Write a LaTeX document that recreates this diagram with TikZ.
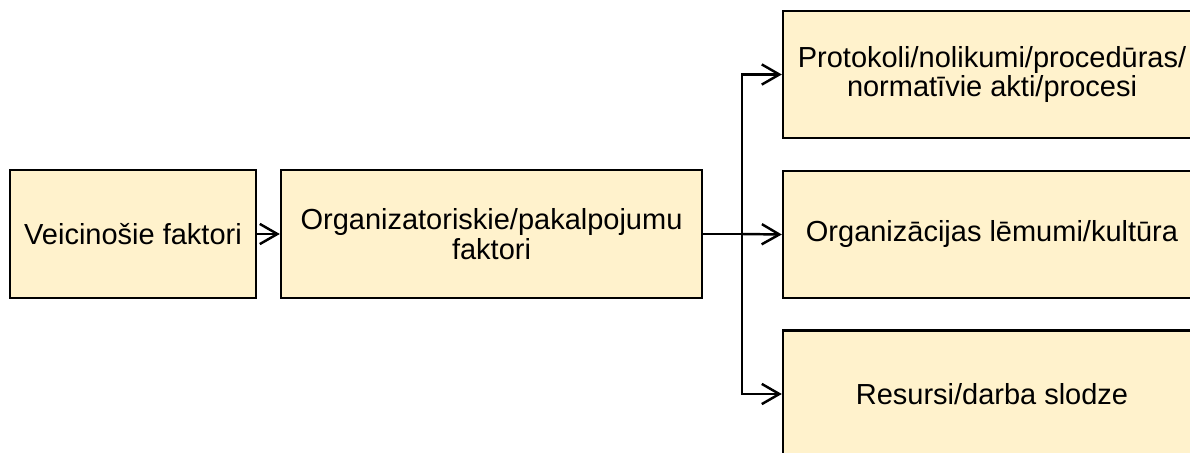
\documentclass[tikz,border=0pt]{standalone}
\usepackage{fontspec}
\setmainfont{Liberation Sans}
\usetikzlibrary{arrows.meta,positioning}
\definecolor{boxFill}{RGB}{255,242,204}

\begin{document}
\begin{tikzpicture}[x=0.02cm, y=-0.02cm,
    every node/.style={font=\fontsize{16.5}{17}\selectfont},
    factor/.style={draw, line width=1.4pt, fill=boxFill, align=center, inner sep=0pt},
    link/.style={line width=1.4pt, -{Straight Barb[length=10pt, width=11.5pt, line width=1.4pt]}}]
  \useasboundingbox (0,0) rectangle (1190,453);
  \clip (0,0) rectangle (1190,453);
  % Boxes
  \node[factor, minimum width=4.92cm, minimum height=2.56cm] (veic) at (133,234) {Veicinošie faktori};
  \node[factor, minimum width=8.42cm, minimum height=2.56cm] (org) at (491.5,234) {Organizatoriskie/pakalpojumu\\faktori};
  \node[factor, minimum width=8.36cm, minimum height=2.54cm] (proto) at (992,74.5) {Protokoli/nolikumi/procedūras/\\normatīvie akti/procesi};
  \node[factor, minimum width=8.36cm, minimum height=2.54cm] (lem) at (992,234.5) {Organizācijas lēmumi/kultūra};
  \node[factor, minimum width=8.36cm, minimum height=2.54cm] (res) at (992,394) {Resursi/darba slodze};
  % Connectors
  \coordinate (split) at (742,234);
  \draw[link] (veic) -- (org);
  \draw[line width=1.4pt] (org.east) -- (split);
  \draw[link] (split) |- (proto.west);
  \draw[link] (split) -- (lem.west);
  \draw[link] (split) |- (res.west);
\end{tikzpicture}
\end{document}
